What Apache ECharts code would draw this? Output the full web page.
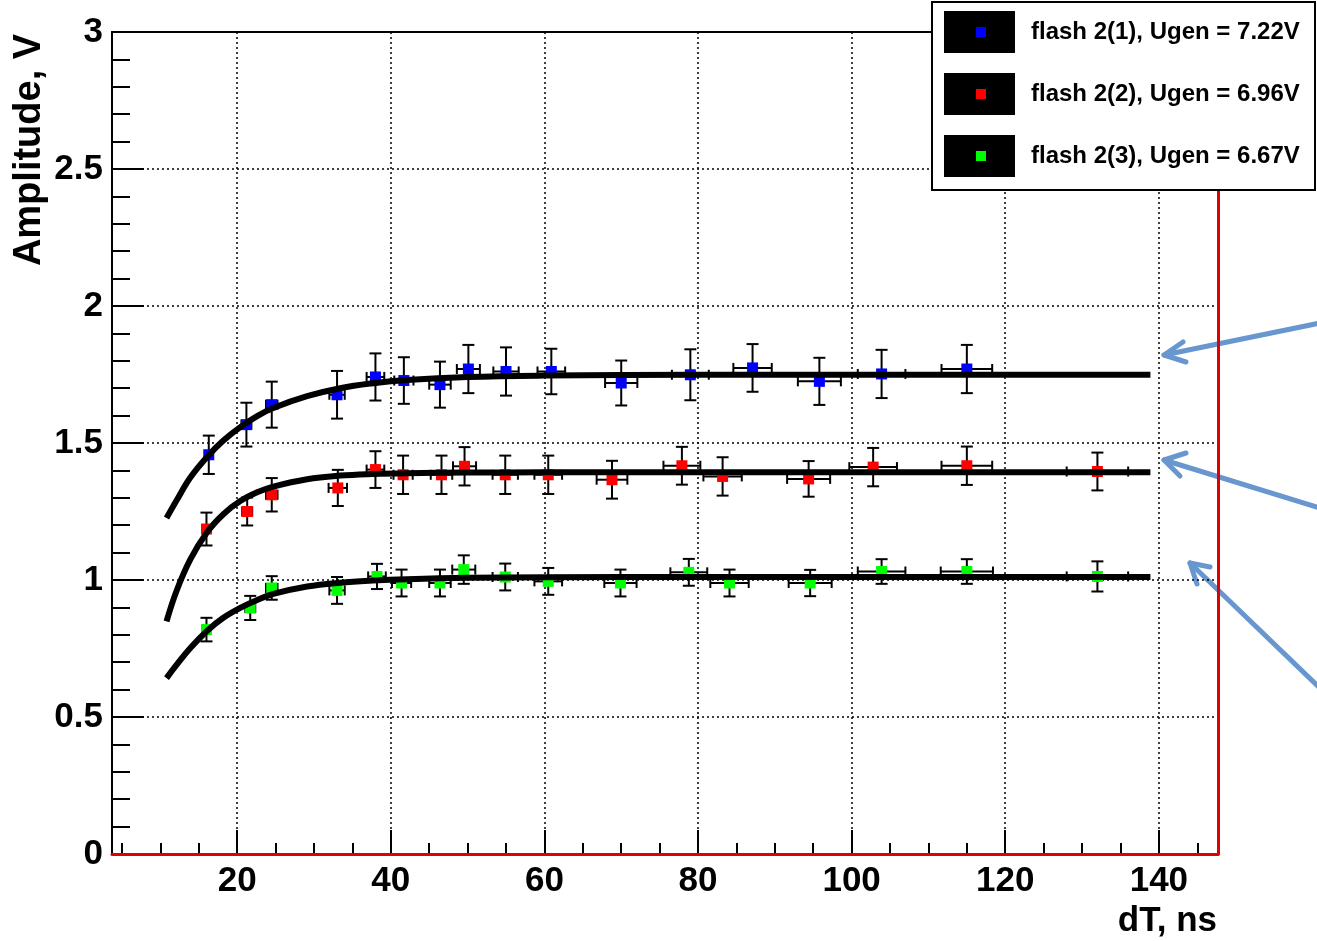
<!DOCTYPE html>
<html>
<head>
<meta charset="utf-8">
<script src="https://cdn.jsdelivr.net/npm/echarts@6/dist/echarts.min.js"></script>
<style>
html, body { margin: 0; padding: 0; background: #fff; }
#chart { width: 1317px; height: 941px; }
</style>
</head>
<body>
<div id="chart"></div>
<script>
var seriesNames = ['flash 2(1), Ugen = 7.22V', 'flash 2(2), Ugen = 6.96V', 'flash 2(3), Ugen = 6.67V'];
var seriesColors = ['#0000ff', '#ff0000', '#00ff00'];

// flash 2(1)
var blueX    = [16.3, 21.2, 24.5, 33.0, 38.0, 41.7, 46.4, 50.1, 55.0, 60.9, 70.0, 79.0, 87.1, 95.8, 103.9, 115.0];
var blueY    = [1.457, 1.567, 1.640, 1.676, 1.741, 1.728, 1.713, 1.770, 1.761, 1.761, 1.719, 1.749, 1.774, 1.725, 1.752, 1.770];
var blueYErr = [0.070, 0.080, 0.084, 0.087, 0.086, 0.085, 0.084, 0.088, 0.088, 0.083, 0.082, 0.093, 0.087, 0.086, 0.088, 0.088];
var blueXErr = [0.5, 0.65, 0.75, 1.0, 1.15, 1.25, 1.4, 1.5, 1.65, 1.8, 2.1, 2.4, 2.5, 2.8, 3.1, 3.3];

// flash 2(2)
var redX    = [16.0, 21.3, 24.5, 33.1, 38.0, 41.6, 46.6, 49.6, 54.9, 60.5, 68.8, 77.9, 83.2, 94.4, 102.8, 115.0, 132.0];
var redY    = [1.186, 1.250, 1.311, 1.336, 1.403, 1.384, 1.384, 1.415, 1.384, 1.384, 1.366, 1.417, 1.378, 1.369, 1.412, 1.417, 1.396];
var redYErr = [0.060, 0.051, 0.061, 0.066, 0.067, 0.070, 0.070, 0.070, 0.070, 0.070, 0.069, 0.069, 0.070, 0.065, 0.070, 0.070, 0.069];
var redXErr = [0.5, 0.65, 0.75, 1.2, 1.15, 1.25, 1.4, 1.5, 1.65, 1.8, 2.0, 2.4, 2.5, 2.8, 3.1, 3.3, 4.0];

// flash 2(3)
var greenX    = [16.0, 21.7, 24.5, 33.0, 38.2, 41.4, 46.4, 49.5, 54.9, 60.5, 69.9, 78.8, 84.1, 94.6, 103.9, 115.0, 132.0];
var greenY    = [0.819, 0.898, 0.971, 0.962, 1.013, 0.989, 0.989, 1.038, 1.011, 0.995, 0.989, 1.028, 0.989, 0.989, 1.031, 1.031, 1.013];
var greenYErr = [0.043, 0.044, 0.043, 0.049, 0.046, 0.049, 0.049, 0.052, 0.049, 0.049, 0.049, 0.049, 0.049, 0.048, 0.045, 0.045, 0.055];
var greenXErr = [0.5, 0.65, 0.75, 1.0, 1.15, 1.25, 1.4, 1.5, 1.65, 1.8, 2.1, 2.4, 2.5, 2.8, 3.1, 3.4, 4.0];

// fit curves
var fitX     = [10.8, 12.1, 13.9, 16.1, 18.2, 20.4, 22.6, 24.7, 29.1, 33.4, 37.7, 42.1, 50, 60, 80, 100, 120, 138.9];
var blueFit  = [1.226, 1.290, 1.374, 1.450, 1.509, 1.558, 1.598, 1.628, 1.671, 1.700, 1.718, 1.730, 1.741, 1.746, 1.749, 1.749, 1.749, 1.749];
var redFit   = [0.849, 0.960, 1.075, 1.175, 1.240, 1.288, 1.320, 1.341, 1.368, 1.381, 1.387, 1.390, 1.392, 1.393, 1.393, 1.393, 1.393, 1.393];
var greenFit = [0.642, 0.690, 0.752, 0.815, 0.862, 0.898, 0.927, 0.949, 0.976, 0.990, 0.998, 1.003, 1.008, 1.010, 1.011, 1.011, 1.011, 1.011];

var groups = [
    { x: blueX, y: blueY, ey: blueYErr, ex: blueXErr, fit: blueFit },
    { x: redX, y: redY, ey: redYErr, ex: redXErr, fit: redFit },
    { x: greenX, y: greenY, ey: greenYErr, ex: greenXErr, fit: greenFit }
];

function renderErrorBar(params, api) {
    var x = api.value(0), y = api.value(1), ey = api.value(2), ex = api.value(3);
    var top = api.coord([x, y + ey]);
    var bot = api.coord([x, y - ey]);
    var left = api.coord([x - ex, y]);
    var right = api.coord([x + ex, y]);
    var cap = 6, vcap = 5;
    var st = { stroke: '#000', lineWidth: 2 };
    return {
        type: 'group',
        children: [
            { type: 'line', shape: { x1: top[0], y1: top[1], x2: bot[0], y2: bot[1] }, style: st },
            { type: 'line', shape: { x1: top[0] - cap, y1: top[1], x2: top[0] + cap, y2: top[1] }, style: st },
            { type: 'line', shape: { x1: bot[0] - cap, y1: bot[1], x2: bot[0] + cap, y2: bot[1] }, style: st },
            { type: 'line', shape: { x1: left[0], y1: left[1], x2: right[0], y2: right[1] }, style: st },
            { type: 'line', shape: { x1: left[0], y1: left[1] - vcap, x2: left[0], y2: left[1] + vcap }, style: st },
            { type: 'line', shape: { x1: right[0], y1: right[1] - vcap, x2: right[0], y2: right[1] + vcap }, style: st }
        ]
    };
}

var series = [];
groups.forEach(function(g, k) {
    series.push({
        type: 'custom',
        name: seriesNames[k] + ' err',
        renderItem: renderErrorBar,
        encode: { x: 0, y: 1 },
        data: g.x.map(function(x, i) { return [x, g.y[i], g.ey[i], g.ex[i]]; }),
        z: 2,
        silent: true
    });
    series.push({
        type: 'scatter',
        name: seriesNames[k],
        symbol: 'rect',
        symbolSize: 11,
        itemStyle: { color: seriesColors[k], opacity: 1 },
        data: g.x.map(function(x, i) { return [x, g.y[i]]; }),
        z: 3
    });
    series.push({
        type: 'line',
        name: seriesNames[k] + ' fit',
        data: fitX.map(function(x, i) { return [x, g.fit[i]]; }),
        smooth: 0.4,
        symbol: 'none',
        lineStyle: { color: '#000', width: 6 },
        z: 5,
        silent: true
    });
});

var dotted = { color: '#000', width: 1.5, type: [2, 3] };
var arrowColor = '#6897cf';

function arrow(x1, y1, x2, y2, w1, w2) {
    return {
        type: 'group',
        z: 20,
        children: [
            { type: 'line', shape: { x1: x1, y1: y1, x2: x2, y2: y2 }, style: { stroke: arrowColor, lineWidth: 5, lineCap: 'round' } },
            { type: 'polyline', shape: { points: [w1, [x2, y2], w2] }, style: { stroke: arrowColor, lineWidth: 5, lineCap: 'round', lineJoin: 'round', fill: null } }
        ]
    };
}

var option = {
    backgroundColor: '#fff',
    animation: false,
    grid: {
        left: 112, right: 99, top: 32, bottom: 87,
        show: true, borderColor: '#000', borderWidth: 2, backgroundColor: 'transparent'
    },
    legend: {
        orient: 'vertical',
        left: 944,
        top: 11,
        padding: 0,
        itemWidth: 71,
        itemHeight: 42,
        itemGap: 20,
        z: 11,
        selectedMode: false,
        textStyle: { fontSize: 24, fontWeight: 'bold', color: '#000', fontFamily: 'Liberation Sans', padding: [0, 0, 0, 11] },
        data: seriesNames.map(function(n) { return { name: n, icon: 'rect', itemStyle: { color: '#000' } }; })
    },
    xAxis: [{
        type: 'value',
        min: 3.7,
        max: 147.7,
        splitNumber: 7,
        axisLine: { show: false },
        axisTick: { show: true, inside: true, length: 24, lineStyle: { color: '#000', width: 2 } },
        minorTick: { show: true, splitNumber: 4, length: 11, lineStyle: { color: '#000', width: 2 } },
        axisLabel: {
            showMinLabel: false, showMaxLabel: false, margin: 10,
            fontSize: 35, fontWeight: 'bold', color: '#000', fontFamily: 'Liberation Sans'
        },
        splitLine: { show: true, lineStyle: dotted }
    }, {
        // red frame line along the bottom
        type: 'value',
        position: 'bottom',
        min: 3.7,
        max: 147.7,
        z: 3,
        axisLine: { show: true, onZero: false, lineStyle: { color: '#e00000', width: 3 } },
        axisTick: { show: false },
        axisLabel: { show: false },
        splitLine: { show: false }
    }],
    yAxis: [{
        type: 'value',
        min: 0,
        max: 3,
        interval: 0.5,
        axisLine: { show: true, onZero: false, lineStyle: { color: '#000', width: 2 } },
        axisTick: { show: true, inside: true, length: 32, lineStyle: { color: '#000', width: 2 } },
        minorTick: { show: true, splitNumber: 5, length: 18, lineStyle: { color: '#000', width: 2 } },
        axisLabel: { margin: 9, fontSize: 35, fontWeight: 'bold', color: '#000', fontFamily: 'Liberation Sans' },
        splitLine: { show: true, lineStyle: dotted }
    }, {
        // red frame line along the right side
        type: 'value',
        position: 'right',
        min: 0,
        max: 3,
        z: 3,
        axisLine: { show: true, onZero: false, lineStyle: { color: '#e00000', width: 3 } },
        axisTick: { show: false },
        axisLabel: { show: false },
        splitLine: { show: false }
    }],
    graphic: [
        {
            type: 'text', x: 30, y: 150, rotation: Math.PI / 2,
            style: { text: 'Amplitude, V', fontSize: 38, fontWeight: 'bold', fontFamily: 'Liberation Sans', fill: '#000', textAlign: 'center', textVerticalAlign: 'middle' }
        },
        {
            type: 'text', x: 1217, y: 921,
            style: { text: 'dT, ns', fontSize: 35, fontWeight: 'bold', fontFamily: 'Liberation Sans', fill: '#000', textAlign: 'right', textVerticalAlign: 'middle' }
        },
        {
            type: 'rect', z: 10,
            shape: { x: 932, y: 2, width: 383, height: 188 },
            style: { fill: '#fff', stroke: '#000', lineWidth: 2 }
        },
        { type: 'rect', z: 12, shape: { x: 976, y: 27, width: 10, height: 10 }, style: { fill: seriesColors[0] } },
        { type: 'rect', z: 12, shape: { x: 976, y: 89, width: 10, height: 10 }, style: { fill: seriesColors[1] } },
        { type: 'rect', z: 12, shape: { x: 976, y: 151, width: 10, height: 10 }, style: { fill: seriesColors[2] } },
        arrow(1320, 323, 1164, 355, [1183, 342], [1186, 362]),
        arrow(1320, 508, 1164, 460, [1186, 453], [1180, 476]),
        arrow(1322, 690, 1190, 563, [1210, 567], [1197, 584])
    ],
    series: series
};

var myChart = echarts.init(document.getElementById('chart'));
myChart.setOption(option);
</script>
</body>
</html>
